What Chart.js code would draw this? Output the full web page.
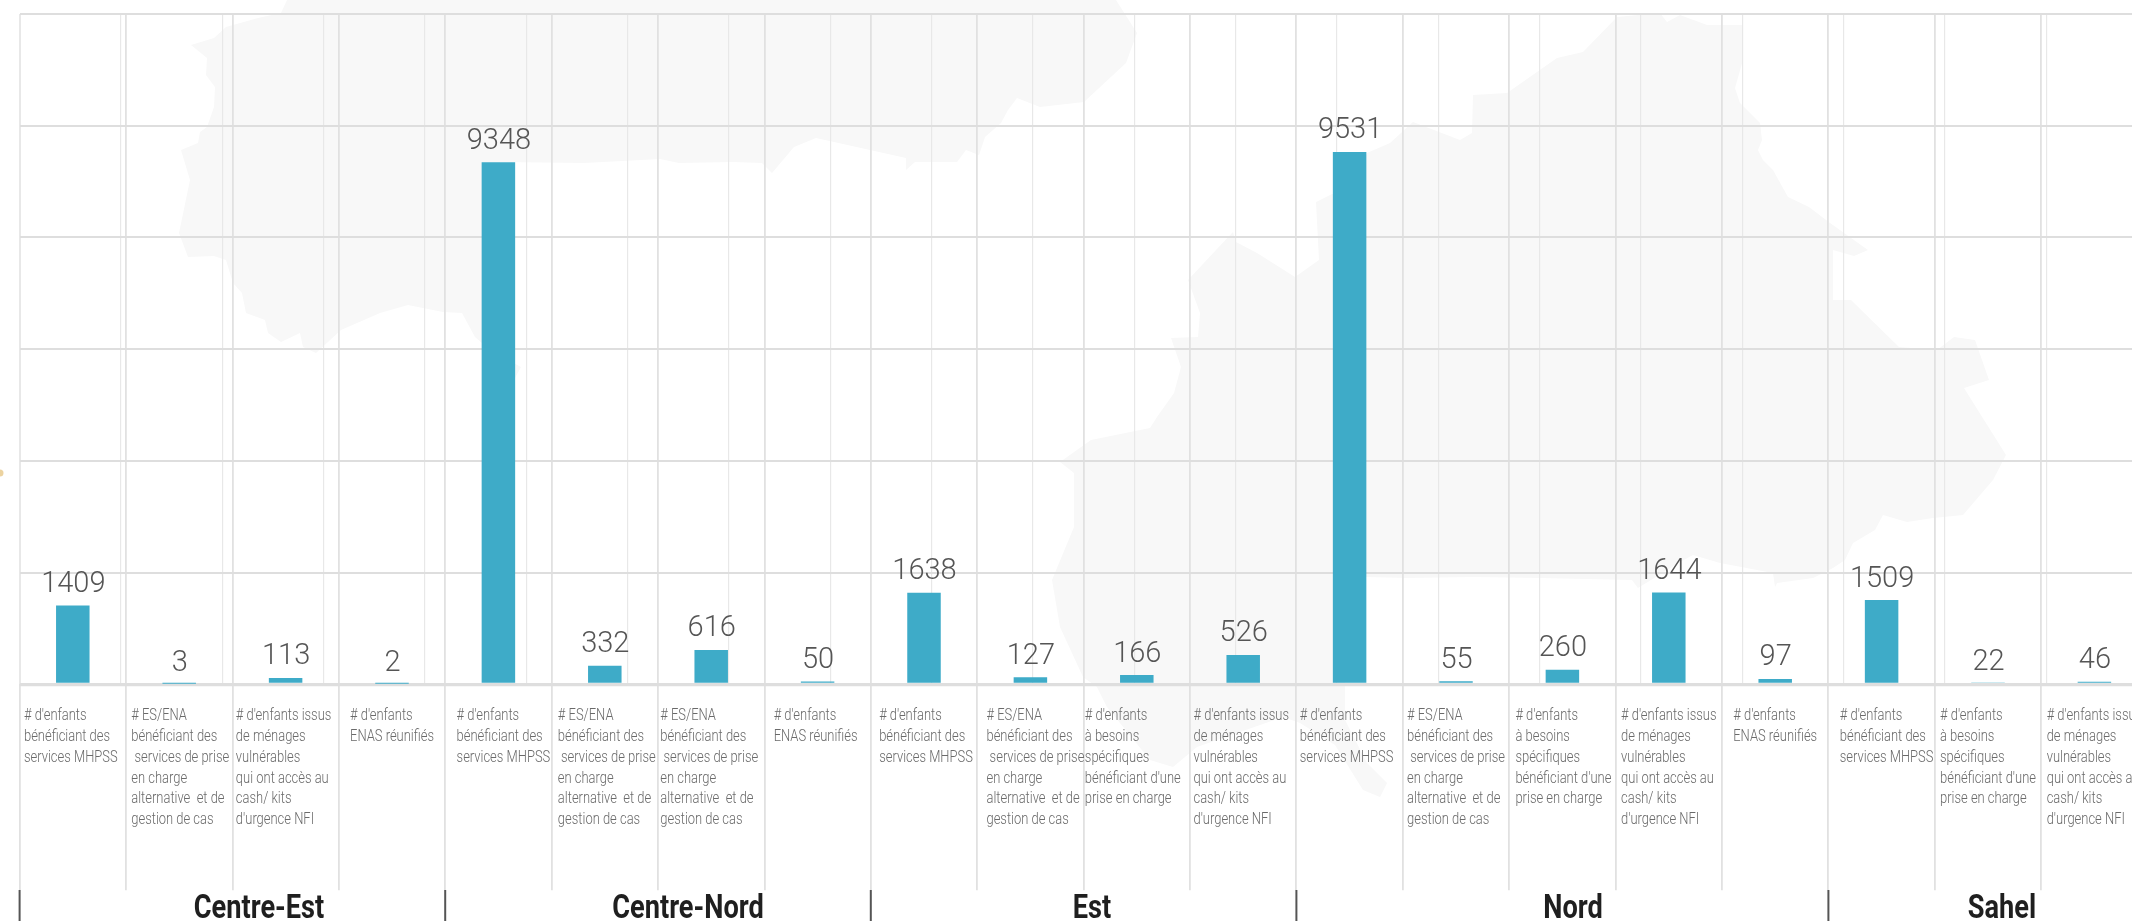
<!DOCTYPE html>
<html>
<head>
<meta charset="utf-8">
<title>Enfants par région</title>
<script src="https://cdn.jsdelivr.net/npm/chart.js@4"></script>
<style>
  html, body { margin: 0; background: #fff; overflow: hidden; }
  #wrap { width: 2132px; height: 921px; overflow: hidden; }
</style>
</head>
<body>
<div id="wrap"><canvas id="myChart" width="2160" height="921"></canvas></div>
<script>
const mhpss = "# d'enfants\nbénéficiant des\nservices MHPSS";
const esEna = "# ES/ENA\nbénéficiant des\n services de prise\nen charge\nalternative  et de\ngestion de cas";
const issus = "# d'enfants issus\nde ménages\nvulnérables\nqui ont accès au\ncash/ kits\nd'urgence NFI";
const enas = "# d'enfants\nENAS réunifiés";
const besoins = "# d'enfants\nà besoins\nspécifiques\nbénéficiant d'une\nprise en charge";

const categories = [
    mhpss, esEna, issus, enas,
    mhpss, esEna, esEna, enas,
    mhpss, esEna, besoins, issus,
    mhpss, esEna, besoins, issus, enas,
    mhpss, besoins, issus
];
const values = [
    1409, 3, 113, 2,
    9348, 332, 616, 50,
    1638, 127, 166, 526,
    9531, 55, 260, 1644, 97,
    1509, 22, 46
];
const regions = ['Centre-Est', 'Centre-Nord', 'Est', 'Nord', 'Sahel'];
const regionSizes = [4, 4, 4, 5, 3];
const yTicks = [0, 2000, 4000, 6000, 8000, 10000, 12000];

// the region titles are not centred on their group in the original
const regionLabelX = [259, 688, 1092, 1573, 2002];
// same for the column text, it sits a few px off centre column by column
const labelNudge = [-3, 0, -3, -1, 4, 1, -3, -3, 1, 4, -5, -3, -4, -1, 0, -1, -1, 4, -1, -1];

// faint country silhouette behind the plot, in page pixels
const mapWest = [[287,0],[281,13],[258,18],[226,27],[214,38],[191,45],[207,58],[206,75],[215,87],[214,107],[207,127],[200,132],[198,143],[181,150],[190,180],[179,233],[188,257],[214,256],[226,260],[233,283],[242,293],[246,313],[265,320],[268,333],[281,342],[300,333],[303,347],[316,353],[341,330],[380,313],[408,305],[443,312],[462,313],[475,337],[490,350],[521,367],[515,378],[500,378],[500,162],[584,163],[660,159],[679,163],[733,162],[762,163],[772,173],[794,147],[816,138],[906,158],[906,170],[915,162],[957,162],[966,150],[979,155],[985,137],[1001,123],[1008,110],[1017,98],[1040,107],[1084,102],[1126,63],[1137,33],[1116,0]];
const mapEast = [[1367,153],[1390,143],[1413,122],[1460,140],[1472,133],[1473,95],[1507,93],[1557,58],[1583,52],[1617,17],[1660,13],[1667,22],[1680,15],[1707,25],[1742,25],[1742,42],[1743,60],[1735,88],[1740,103],[1760,123],[1762,140],[1758,150],[1763,160],[1773,170],[1788,197],[1809,207],[1830,223],[1868,250],[1854,256],[1833,250],[1833,300],[1851,300],[1899,347],[1937,350],[1954,337],[1975,340],[1989,380],[1964,388],[2006,455],[1993,480],[1963,515],[1933,518],[1907,522],[1883,515],[1875,530],[1853,543],[1845,560],[1833,568],[1813,578],[1777,583],[1775,587],[1773,573],[1720,563],[1693,555],[1680,562],[1638,588],[1632,580],[1540,578],[1473,577],[1407,578],[1366,577],[1345,650],[1345,720],[1367,763],[1387,783],[1380,797],[1363,790],[1335,745],[1300,723],[1283,717],[1197,747],[1173,767],[1150,760],[1107,707],[1097,687],[1083,677],[1060,627],[1052,580],[1074,527],[1074,473],[1060,462],[1091,440],[1150,428],[1157,417],[1174,393],[1181,367],[1171,338],[1198,337],[1200,313],[1188,280],[1216,250],[1233,232],[1236,242],[1257,253],[1295,277],[1319,260],[1316,202],[1340,190]];

function drawSqueezed(ctx, text, x, y, scaleX) {
    ctx.save();
    ctx.translate(x, y);
    ctx.scale(scaleX, 1);
    ctx.fillText(text, 0, 0);
    ctx.restore();
}

const backdrop = {
    id: 'backdrop',
    beforeDraw(chart) {
        const c = chart.ctx;
        c.save();
        c.fillStyle = '#f8f8f8';
        [mapWest, mapEast].forEach(function (shape) {
            c.beginPath();
            shape.forEach(function (p, i) {
                if (i === 0) c.moveTo(p[0], p[1]); else c.lineTo(p[0], p[1]);
            });
            c.closePath();
            c.fill();
        });
        c.fillStyle = '#ecd3a0';
        c.beginPath();
        c.arc(0, 473, 3.5, 0, Math.PI * 2);
        c.fill();
        c.restore();
    },
    // the baseline sits on top of the bars in the original
    afterDatasetsDraw(chart) {
        const c = chart.ctx;
        const y0 = chart.scales.y.getPixelForValue(0) + 0.7;
        c.save();
        c.strokeStyle = '#dedede';
        c.lineWidth = 2.5;
        c.beginPath();
        c.moveTo(chart.chartArea.left, y0);
        c.lineTo(chart.chartArea.right, y0);
        c.stroke();
        c.restore();
    }
};

const textLayer = {
    id: 'textLayer',
    afterDraw(chart) {
        const c = chart.ctx;
        const x = chart.scales.x;
        const meta = chart.getDatasetMeta(0);
        const step = x.getPixelForValue(1) - x.getPixelForValue(0);
        c.save();

        // values above the bars
        c.font = '300 29px Roboto';
        c.fillStyle = '#555';
        c.textAlign = 'center';
        c.textBaseline = 'alphabetic';
        meta.data.forEach(function (bar, i) {
            c.fillText(String(values[i]), bar.x + 0.5, bar.y - 13.5);
        });

        // indicator text under each column, block centred but lines left aligned
        const labelScale = 0.79;
        c.font = '300 16.4px Roboto';
        c.fillStyle = '#6a6a6a';
        c.textAlign = 'left';
        categories.forEach(function (label, i) {
            const lines = label.split('\n');
            const widest = Math.max.apply(null, lines.map(function (l) { return c.measureText(l).width; })) * labelScale;
            const left = x.getPixelForValue(i) - widest / 2 + 1 + labelNudge[i];
            lines.forEach(function (line, j) {
                drawSqueezed(c, line, left, 720 + j * 20.87, labelScale);
            });
        });

        // region names and the dark ticks between them
        let start = 0;
        regions.forEach(function (name, i) {
            const edge = x.getPixelForValue(start) - step / 2;
            c.strokeStyle = '#555';
            c.lineWidth = 2;
            c.beginPath();
            c.moveTo(edge, 890);
            c.lineTo(edge, 921);
            c.stroke();
            c.font = '700 34px Roboto';
            c.fillStyle = '#1f1f1f';
            c.textAlign = 'center';
            drawSqueezed(c, name, regionLabelX[i], 918, 0.8);
            start += regionSizes[i];
        });
        c.restore();
    }
};

new Chart(document.getElementById('myChart'), {
    type: 'bar',
    data: {
        labels: categories,
        datasets: [{
            data: values,
            backgroundColor: '#3eabc8',
            barThickness: 33.5,
            inflateAmount: 0
        }]
    },
    plugins: [backdrop, textLayer],
    options: {
        responsive: false,
        animation: false,
        layout: { padding: { left: 19.6, right: 12.4, top: 14, bottom: 30.7 } },
        plugins: { legend: { display: false }, tooltip: { enabled: false } },
        scales: {
            x: {
                ticks: { display: false, autoSkip: false },
                grid: { color: '#e1e1e1', lineWidth: 1.8, tickLength: 206 },
                border: { display: false }
            },
            // extra lines through the middle of every column
            xMid: {
                type: 'linear',
                position: 'bottom',
                min: -0.5,
                max: 19.5,
                ticks: { display: false, stepSize: 1 },
                grid: { color: '#e8e8e8', lineWidth: 1.2, drawTicks: false, tickLength: 0 },
                border: { display: false }
            },
            y: {
                min: 0,
                max: 12000,
                afterBuildTicks(axis) {
                    axis.ticks = yTicks.map(function (v) { return { value: v }; });
                },
                ticks: { display: false },
                grid: {
                    color: '#dedede',
                    lineWidth: function (ctx) { return ctx.tick.value === 0 ? 3 : 2; },
                    drawTicks: false,
                    tickLength: 0
                },
                border: { display: false }
            }
        }
    }
});
</script>
</body>
</html>
